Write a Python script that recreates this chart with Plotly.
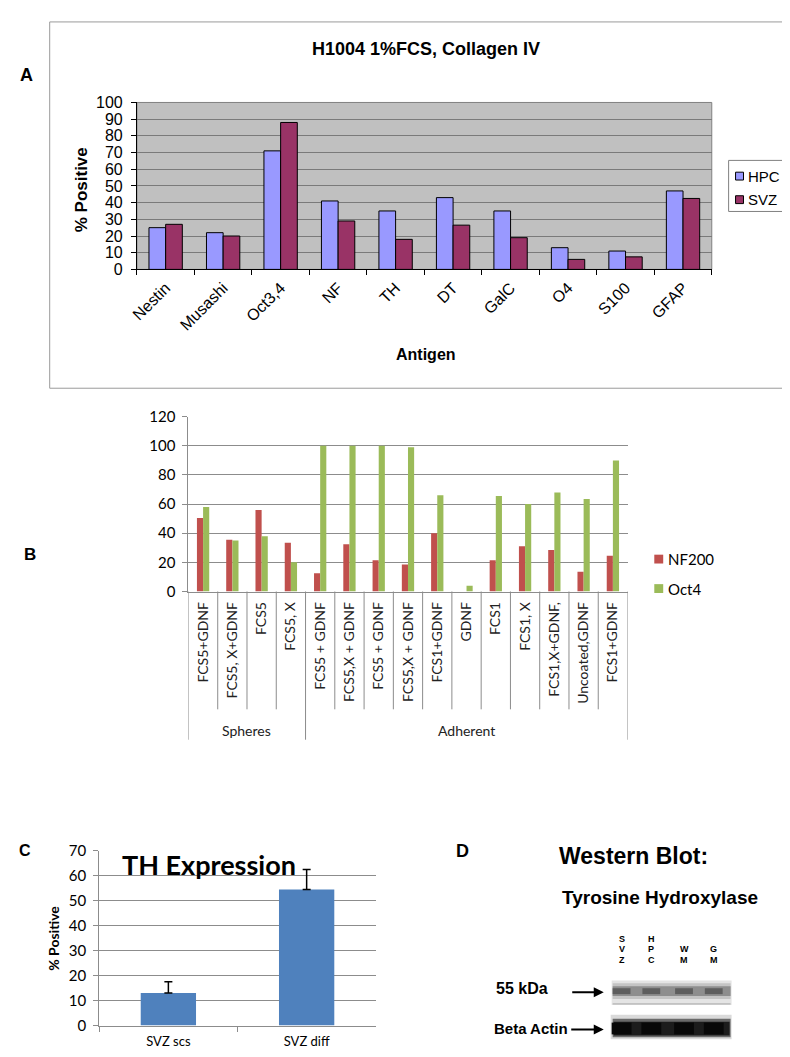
import plotly.graph_objects as go

W, H = 790, 1057


def px(x):
    return x / W


def py(y):
    return 1 - y / H


ARIAL = "Liberation Sans, Arial, sans-serif"
CAL = "Lato, Carlito, Calibri, sans-serif"

# ---------------- Data ----------------
# Panel A
antigens = ["Nestin", "Musashi", "Oct3,4", "NF", "TH", "DT", "GalC", "O4", "S100", "GFAP"]
series_a = ["HPC", "SVZ"]
hpc = [25, 22, 71, 41, 35, 43, 35, 13, 11, 47]
svz = [27, 20, 88, 29, 18, 26.5, 19, 6, 7.5, 42.5]

# Panel B
conditions = ["FCS5+GDNF", "FCS5, X+GDNF", "FCS5", "FCS5, X",
              "FCS5 + GDNF", "FCS5,X + GDNF", "FCS5 + GDNF", "FCS5,X + GDNF",
              "FCS1+GDNF", "GDNF", "FCS1", "FCS1, X", "FCS1,X+GDNF,",
              "Uncoated,GDNF", "FCS1+GDNF"]
groups = ["Spheres"] * 4 + ["Adherent"] * 11
series_b = ["NF200", "Oct4"]
nf200 = [50.5, 35.5, 56, 33.5, 12.5, 32.5, 21.5, 18.5, 40, 0, 21.5, 31, 28.5, 13.5, 24.5]
oct4 = [58, 35, 38, 20, 100, 100, 100, 99, 66, 4, 65.5, 60, 68, 63.5, 90]

# Panel C
th_groups = ["SVZ scs", "SVZ diff"]
th_values = [13, 54.5]
th_err = [4.5, 8]

# Panel D
lanes = ["SVZ", "HPC", "WM", "GM"]

# ---------------- Styles ----------------
COL_A = ["#9999FF", "#993366"]
COL_B = ["#C0504D", "#9BBB59"]
COL_C = "#4F81BD"

fig = go.Figure()

# Panel A bars
for name, vals, col, off in [(series_a[0], hpc, COL_A[0], -0.29), (series_a[1], svz, COL_A[1], 0.0)]:
    fig.add_trace(go.Bar(x=antigens, y=vals, name=name, marker=dict(color=col, line=dict(color="black", width=1)),
                         width=0.29, offset=off, xaxis="x", yaxis="y", showlegend=False))

# Panel B bars
idx = list(range(len(conditions)))
for name, vals, col, off in [(series_b[0], nf200, COL_B[0], -0.21), (series_b[1], oct4, COL_B[1], 0.0)]:
    fig.add_trace(go.Bar(x=idx, y=vals, name=name, marker=dict(color=col, line=dict(width=0)),
                         width=0.21, offset=off, xaxis="x2", yaxis="y2", showlegend=False))

# Panel C bars
fig.add_trace(go.Bar(x=th_groups, y=th_values, marker=dict(color=COL_C, line=dict(width=0)), width=0.4,
                     error_y=dict(type="data", array=th_err, arrayminus=[0] * len(th_err), symmetric=False,
                                  color="black", thickness=1.5, width=4),
                     xaxis="x3", yaxis="y3", showlegend=False))

shapes = []
ann = []

# ---- Panel A axes ----
fig.update_layout(
    xaxis=dict(domain=[px(123), px(703)], type="category", tickangle=-45, ticks="outside", tickson="boundaries",
               ticklen=5, tickcolor="black", showline=True, linecolor="black", linewidth=1,
               tickfont=dict(family=ARIAL, size=16, color="black"), showgrid=False, anchor="y",
               ticklabelstandoff=2),
    yaxis=dict(domain=[py(256), py(86)], range=[0, 100], dtick=10, ticks="outside", ticklen=5, tickcolor="black",
               showline=True, linecolor="black", linewidth=1, showgrid=True, gridcolor="#7a7a7a", gridwidth=1,
               tickfont=dict(family=ARIAL, size=16, color="black"), anchor="x", ticklabelstandoff=5,
               zeroline=False),
)
shapes.append(dict(type="rect", xref="x domain", yref="y domain", x0=0, x1=1, y0=0, y1=1,
                   fillcolor="#C0C0C0", line=dict(width=0), layer="below"))
shapes.append(dict(type="rect", xref="x domain", yref="y domain", x0=0, x1=1, y0=0, y1=1,
                   fillcolor="rgba(0,0,0,0)", line=dict(color="#808080", width=1), layer="below"))
# outer box of panel A
shapes.append(dict(type="rect", xref="paper", yref="paper", x0=px(35), x1=px(783), y0=py(377), y1=py(4),
                   line=dict(color="#9a9a9a", width=1), fillcolor="rgba(0,0,0,0)"))
# legend A (manual)
shapes.append(dict(type="rect", xref="paper", yref="paper", x0=px(720), x1=px(777), y0=py(197), y1=py(145),
                   line=dict(color="#808080", width=1), fillcolor="white"))
for i, (name, col) in enumerate(zip(series_a, COL_A)):
    yc = 161 + i * 24
    shapes.append(dict(type="rect", xref="paper", yref="paper", x0=px(727), x1=px(735), y0=py(yc + 4), y1=py(yc - 4),
                       fillcolor=col, line=dict(color="black", width=1)))
    ann.append(dict(x=px(738), y=py(yc), xref="paper", yref="paper", text=name, showarrow=False,
                    xanchor="left", yanchor="middle", font=dict(family=ARIAL, size=15, color="black")))

ann += [
    dict(x=px(12), y=py(58), text="<b>A</b>", font=dict(family=ARIAL, size=18, color="black")),
    dict(x=px(415), y=py(32), text="<b>H1004 1%FCS, Collagen IV</b>", font=dict(family=ARIAL, size=18, color="black")),
    dict(x=px(67), y=py(175), text="<b>% Positive</b>", textangle=-90, font=dict(family=ARIAL, size=17, color="black")),
    dict(x=px(415), y=py(343), text="<b>Antigen</b>", font=dict(family=ARIAL, size=16, color="black")),
]

# ---- Panel B axes ----
fig.update_layout(
    xaxis2=dict(domain=[px(175), px(618)], range=[-0.5, len(conditions) - 0.5], tickmode="array", tickvals=idx,
                ticktext=conditions, tickangle=-90, ticks="", showline=True, linecolor="#8c8c8c",
                tickfont=dict(family=CAL, size=14, color="#222"), showgrid=False, zeroline=False, anchor="y2",
                ticklabelstandoff=4),
    yaxis2=dict(domain=[py(584), py(406)], range=[0, 120], dtick=20, ticks="outside", ticklen=5,
                tickcolor="#8c8c8c", showline=True, linecolor="#8c8c8c", showgrid=True, gridcolor="#8c8c8c",
                tickfont=dict(family=CAL, size=15, color="black"), anchor="x2", zeroline=False,
                ticklabelstandoff=4),
)
n = len(conditions)
group_edges = {-0.5, n - 0.5} | {i - 0.5 for i in range(1, n) if groups[i] != groups[i - 1]}
for k in range(n + 1):
    b = k - 0.5
    y1 = -0.848 if b in group_edges else -0.674
    shapes.append(dict(type="line", xref="x2", yref="y2 domain", x0=b, x1=b, y0=0, y1=y1,
                       line=dict(color="#8c8c8c", width=1)))
# group labels
seen = []
for g in groups:
    if g not in seen:
        seen.append(g)
for g in seen:
    members = [i for i, gg in enumerate(groups) if gg == g]
    ann.append(dict(x=(members[0] + members[-1]) / 2, xref="x2", y=py(726), yref="paper", text=g, showarrow=False,
                    font=dict(family=CAL, size=14, color="#222")))
# legend B (manual)
for i, (name, col) in enumerate(zip(series_b, COL_B)):
    yc = 551 + i * 30
    shapes.append(dict(type="rect", xref="paper", yref="paper", x0=px(645), x1=px(654), y0=py(yc + 4.5),
                       y1=py(yc - 4.5), fillcolor=col, line=dict(width=0)))
    ann.append(dict(x=px(657), y=py(yc), xref="paper", yref="paper", text=name, showarrow=False,
                    xanchor="left", yanchor="middle", font=dict(family=CAL, size=15, color="black")))
ann.append(dict(x=px(15), y=py(546), text="<b>B</b>", font=dict(family=ARIAL, size=17, color="black")))

# ---- Panel C axes ----
fig.update_layout(
    xaxis3=dict(domain=[px(85), px(364)], type="category", ticks="outside", tickson="boundaries", ticklen=5,
                tickcolor="#8c8c8c", showline=True, linecolor="#8c8c8c", showgrid=False,
                tickfont=dict(family=CAL, size=13, color="black"), anchor="y3", ticklabelstandoff=4),
    yaxis3=dict(domain=[py(1026), py(848)], range=[0, 70], dtick=10, ticks="outside", ticklen=5,
                tickcolor="#8c8c8c", showline=True, linecolor="#8c8c8c", showgrid=True, gridcolor="#8c8c8c",
                tickfont=dict(family=CAL, size=15, color="black"), anchor="x3", zeroline=False,
                ticklabelstandoff=4),
)
ann += [
    dict(x=px(10), y=py(848), text="<b>C</b>", font=dict(family=ARIAL, size=16, color="black")),
    dict(x=px(196), y=py(862), text="<b>TH Expression</b>", font=dict(family=CAL, size=27, color="black")),
    dict(x=px(39), y=py(937), text="<b>% Positive</b>", textangle=-90, font=dict(family=CAL, size=14, color="black")),
]

# ---- Panel D (western blot) ----
ann += [
    dict(x=px(452), y=py(848), text="<b>D</b>", font=dict(family=ARIAL, size=18, color="black")),
    dict(x=px(624), y=py(853), text="<b>Western Blot:</b>", font=dict(family=ARIAL, size=23, color="black")),
    dict(x=px(651), y=py(896), text="<b>Tyrosine Hydroxylase</b>", font=dict(family=ARIAL, size=19, color="black")),
    dict(x=px(512), y=py(988), text="<b>55 kDa</b>", font=dict(family=ARIAL, size=16, color="black")),
    dict(x=px(521), y=py(1029), text="<b>Beta Actin</b>", font=dict(family=ARIAL, size=15, color="black")),
]
lane_x = [612, 642, 675, 705]
for lx, lab in zip(lane_x, lanes):
    letters = list(lab)
    for j, ch in enumerate(letters):
        yy = 959 - (len(letters) - 1 - j) * 10.5
        ann.append(dict(x=px(lx), y=py(yy), xref="paper", yref="paper", text="<b>" + ch + "</b>",
                        showarrow=False, xanchor="center", yanchor="middle", borderpad=0,
                        font=dict(family=ARIAL, size=9, color="black")))
# arrows
for ty, tx0 in [(992, 561), (1030, 560)]:
    ann.append(dict(x=px(594), y=py(ty), xref="paper", yref="paper", ax=tx0 - 594, ay=0, text="",
                    showarrow=True, arrowhead=2, arrowsize=1, arrowwidth=2, arrowcolor="black"))
# blot 1 (TH, 55 kDa)
shapes.append(dict(type="rect", xref="paper", yref="paper", x0=px(602), x1=px(723), y0=py(1005), y1=py(980),
                   fillcolor="#e4e4e4", line=dict(width=0)))
shapes.append(dict(type="rect", xref="paper", yref="paper", x0=px(603), x1=px(722), y0=py(999), y1=py(983),
                   fillcolor="#c4c4c4", line=dict(width=0)))
shapes.append(dict(type="rect", xref="paper", yref="paper", x0=px(603), x1=px(722), y0=py(996), y1=py(986),
                   fillcolor="#8e8e8e", line=dict(width=0)))
for lx in lane_x:
    shapes.append(dict(type="rect", xref="paper", yref="paper", x0=px(lx - 9), x1=px(lx + 9), y0=py(994),
                       y1=py(988), fillcolor="#5e5e5e", line=dict(width=0)))
shapes.append(dict(type="line", xref="paper", yref="paper", x0=px(603), x1=px(722), y0=py(1004), y1=py(1004),
                   line=dict(color="#a8a8a8", width=1)))
# blot 2 (beta actin)
shapes.append(dict(type="rect", xref="paper", yref="paper", x0=px(601), x1=px(723), y0=py(1040), y1=py(1015),
                   fillcolor="#dadada", line=dict(width=0)))
shapes.append(dict(type="rect", xref="paper", yref="paper", x0=px(603), x1=px(722), y0=py(1038), y1=py(1019),
                   fillcolor="#6a6a6a", line=dict(width=0)))
shapes.append(dict(type="rect", xref="paper", yref="paper", x0=px(604), x1=px(721), y0=py(1036), y1=py(1022),
                   fillcolor="#1c1c1c", line=dict(width=0)))
for lx in lane_x:
    shapes.append(dict(type="rect", xref="paper", yref="paper", x0=px(lx - 10), x1=px(lx + 10), y0=py(1035),
                       y1=py(1023), fillcolor="#080808", line=dict(width=0)))

for a in ann:
    a.setdefault("xref", "paper")
    a.setdefault("yref", "paper")
    a.setdefault("showarrow", False)
    a.setdefault("xanchor", "center")
    a.setdefault("yanchor", "middle")

fig.update_layout(
    width=W, height=H, margin=dict(l=0, r=0, t=0, b=0),
    paper_bgcolor="white", plot_bgcolor="white",
    barmode="overlay", showlegend=False,
    shapes=shapes, annotations=ann,
)

fig.write_html("out.html")
